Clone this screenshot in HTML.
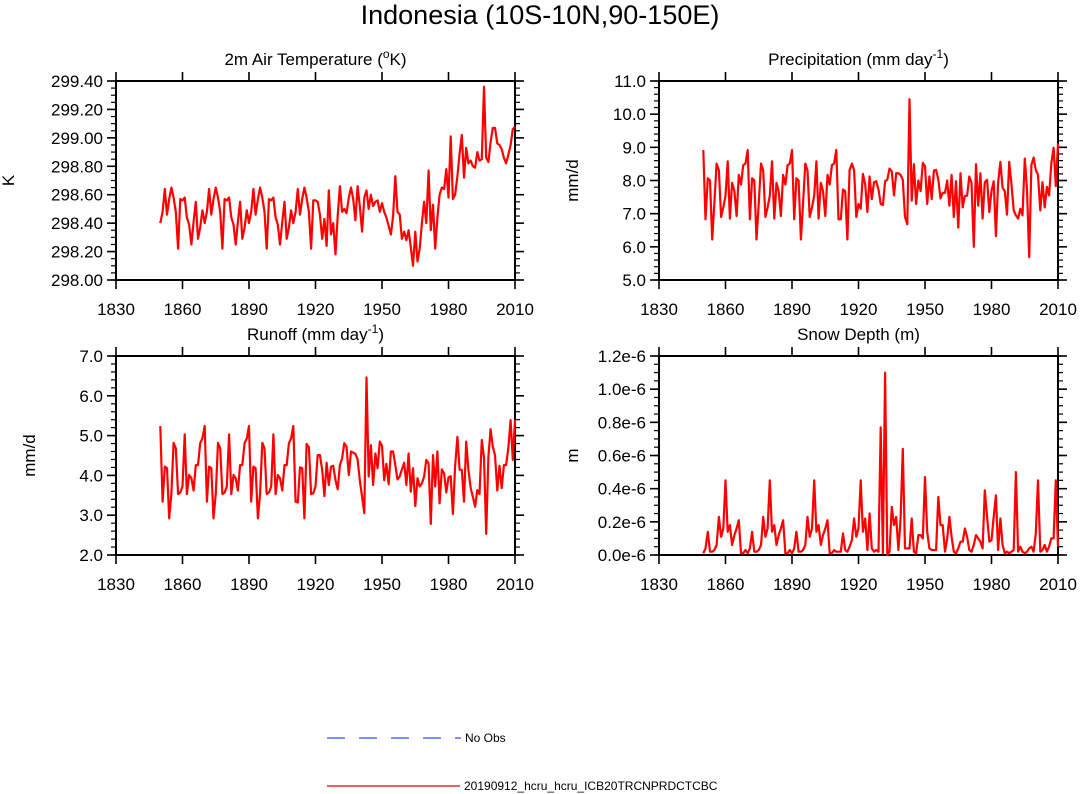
<!DOCTYPE html>
<html><head><meta charset="utf-8"><style>
body{margin:0;background:#fff;}
svg{display:block;font-family:"Liberation Sans",Arial,sans-serif;}
</style></head><body>
<svg id="chart" width="1080" height="794" viewBox="0 0 1080 794" xmlns="http://www.w3.org/2000/svg">
<text x="540" y="24" font-size="27" text-anchor="middle">Indonesia (10S-10N,90-150E)</text>
<g id="panels"></g>
<g>
<line x1="327" y1="738" x2="461" y2="738" stroke="#4444ff" stroke-width="1.3" stroke-dasharray="18,14"/>
<text x="465" y="742" font-size="12">No Obs</text>
<line x1="327" y1="786" x2="460" y2="786" stroke="#e00" stroke-width="1.3"/>
<text x="464" y="790" font-size="12">20190912_hcru_hcru_ICB20TRCNPRDCTCBC</text>
</g>
</svg>
<script>
const startYear = 1850;
const xTicks = [1830,1860,1890,1920,1950,1980,2010];
const tempCycle = [298.40,298.48,298.64,298.46,298.57,298.65,298.58,298.48,298.22,298.57,298.56,298.58,298.44,298.39,298.25,298.41,298.55,298.29,298.37,298.49];
const tempLate = [298.56,298.56,298.55,298.46,298.29,298.43,298.24,298.63,298.32,298.40,298.18,298.45,298.66,298.48,298.50,298.47,298.58,298.65,298.57,298.42,298.66,298.52,298.34,298.58,298.63,298.50,298.60,298.52,298.55,298.56,298.48,298.54,298.48,298.44,298.38,298.32,298.45,298.73,298.48,298.46,298.29,298.34,298.28,298.35,298.23,298.10,298.34,298.13,298.22,298.40,298.55,298.40,298.77,298.35,298.53,298.22,298.44,298.60,298.65,298.64,298.78,298.58,299.01,298.57,298.60,298.73,298.89,299.02,298.72,298.93,298.82,298.84,298.80,298.79,298.90,298.84,298.85,299.36,298.86,298.83,298.97,299.07,299.07,298.96,298.95,298.92,298.86,298.82,298.88,298.95,299.06,299.08];
const precCycle = [8.92,6.83,8.07,8.00,6.22,7.34,8.51,8.30,6.90,7.19,7.54,8.58,6.85,7.93,7.68,6.93,8.17,7.88,8.46,8.51];
const precLate = [6.83,7.73,7.68,6.22,8.32,8.51,8.30,6.90,7.29,7.15,8.20,7.88,7.05,8.12,7.44,7.95,7.98,7.73,7.29,7.26,7.98,8.02,8.36,8.27,7.55,8.22,8.22,8.17,8.02,6.90,6.68,10.45,7.39,8.49,7.29,8.00,7.68,8.53,8.43,7.29,8.12,7.44,8.30,8.32,8.02,7.46,7.63,7.63,8.00,7.24,8.17,6.90,7.98,6.58,8.22,7.19,7.54,7.54,8.12,7.93,6.00,8.49,7.24,8.22,6.85,7.95,8.02,7.05,7.68,7.98,6.32,7.93,8.56,7.78,7.68,6.97,8.56,7.88,7.10,6.95,6.85,7.15,6.95,8.66,7.73,5.69,8.46,8.69,8.32,8.17,7.10,7.95,7.19,7.81,7.55,8.51,8.99,7.83,9.12];
const runCycle = [5.24,3.34,4.22,4.18,2.92,3.55,4.82,4.68,3.53,3.57,3.72,5.03,3.53,4.01,3.93,3.62,4.26,4.26,4.81,4.93];
const runLate = [3.32,4.20,4.18,2.92,4.79,4.71,3.53,3.55,3.72,4.51,4.51,4.14,3.48,4.32,3.76,4.22,4.24,3.88,3.65,4.26,4.43,4.81,4.72,4.01,4.60,4.57,4.54,4.40,3.88,3.46,3.05,6.46,3.97,4.76,3.76,4.55,4.18,4.85,4.74,3.88,4.29,3.78,4.60,4.60,4.26,3.90,3.97,4.15,4.32,3.76,4.55,3.59,4.18,3.23,3.93,3.72,3.80,3.97,4.39,4.30,2.78,4.51,3.72,4.60,3.30,4.15,4.05,3.57,3.95,3.98,3.03,4.22,4.97,4.14,4.14,3.34,4.85,4.14,3.68,3.46,3.21,3.63,3.53,4.89,4.45,2.53,4.47,5.16,4.72,4.51,3.62,4.24,3.68,4.26,4.26,4.68,5.39,4.39,5.40];
const snowCycle = [0.01,0.04,0.14,0.02,0.02,0.03,0.06,0.23,0.11,0.16,0.45,0.14,0.18,0.06,0.12,0.16,0.21,0.01,0.01,0.03];
const snowLate = [0.02,0.02,0.13,0.03,0.02,0.05,0.09,0.22,0.11,0.16,0.45,0.14,0.22,0.03,0.25,0.04,0.02,0.03,0.02,0.77,0.01,1.10,0.00,0.02,0.29,0.18,0.23,0.03,0.22,0.64,0.04,0.04,0.04,0.22,0.02,0.01,0.12,0.12,0.10,0.47,0.14,0.04,0.03,0.03,0.03,0.35,0.18,0.18,0.02,0.10,0.23,0.11,0.02,0.01,0.04,0.08,0.08,0.16,0.11,0.03,0.02,0.06,0.12,0.10,0.08,0.04,0.39,0.23,0.08,0.09,0.23,0.36,0.03,0.22,0.06,0.01,0.02,0.01,0.02,0.03,0.50,0.02,0.05,0.02,0.01,0.02,0.04,0.05,0.02,0.13,0.45,0.02,0.03,0.06,0.02,0.05,0.10,0.10,0.45,0.05];
const tempTicks = ["298.00","298.20","298.40","298.60","298.80","299.00","299.20","299.40"];
const precTicks = ["5.0","6.0","7.0","8.0","9.0","10.0","11.0"];
const runTicks = ["2.0","3.0","4.0","5.0","6.0","7.0"];
const snowTicks = ["0.0e-6","0.2e-6","0.4e-6","0.6e-6","0.8e-6","1.0e-6","1.2e-6"];

const NS = "http://www.w3.org/2000/svg";
const root = document.getElementById('panels');
function mk(tag, attrs, parent){
  const e = document.createElementNS(NS, tag);
  for (const k in attrs) e.setAttribute(k, attrs[k]);
  parent.appendChild(e);
  return e;
}
function series(cycle, repeats, late){
  let out = [];
  for (let r=0;r<repeats;r++) out = out.concat(cycle);
  return out.concat(late);
}
const panels = [
  {key:'temperature', x:116, y:81, w:399, h:199, vals:series(tempCycle,3,tempCycle.slice(0,9).concat(tempLate)).slice(0,161), lo:298, hi:299.4, ticks:tempTicks, minor:0.05, ylab:'K', title:['2m Air Temperature (','o','K)']},
  {key:'precipitation', x:659, y:81, w:399, h:199, vals:series(precCycle,3,precCycle.slice(0,2).concat(precLate)).slice(0,161), lo:5, hi:11, ticks:precTicks, minor:0.2, ylab:'mm/d', title:['Precipitation (mm day','-1',')']},
  {key:'runoff', x:116, y:356, w:399, h:199, vals:series(runCycle,3,runCycle.slice(0,2).concat(runLate)).slice(0,161), lo:2, hi:7, ticks:runTicks, minor:0.2, ylab:'mm/d', title:['Runoff (mm day','-1',')']},
  {key:'snow-depth', x:659, y:356, w:399, h:199, vals:series(snowCycle,3,[0.02].concat(snowLate)).slice(0,161), lo:0, hi:1.2, ticks:snowTicks, minor:0.05, ylab:'m', title:['Snow Depth (m)']}
];
panels.forEach(p=>{
  const g = mk('g',{},root);
  
  
  const xs = yr => p.x + (yr-1830)/180*p.w;
  const ys = v => p.y + p.h - (v-p.lo)/(p.hi-p.lo)*p.h;
  const fr = mk('rect',{x:p.x,y:p.y,width:p.w,height:p.h,fill:'none',stroke:'#000','stroke-width':2},g);
  
  
  xTicks.forEach(t=>{
    const x = xs(t);
    mk('line',{x1:x,y1:p.y+p.h,x2:x,y2:p.y+p.h+9,stroke:'#000','stroke-width':1.6},g);
    mk('line',{x1:x,y1:p.y,x2:x,y2:p.y-9,stroke:'#000','stroke-width':1.6},g);
    const tl = mk('text',{x:x,y:p.y+p.h+35,'font-size':17,'text-anchor':'middle'},g);
    tl.textContent = t;
    
    
  });
  const step = (p.hi-p.lo)/(p.ticks.length-1);
  p.ticks.forEach((lab,i)=>{
    const y = ys(p.lo+i*step);
    mk('line',{x1:p.x,y1:y,x2:p.x-9,y2:y,stroke:'#000','stroke-width':1.6},g);
    mk('line',{x1:p.x+p.w,y1:y,x2:p.x+p.w+9,y2:y,stroke:'#000','stroke-width':1.6},g);
    const tl = mk('text',{x:p.x-13,y:y+6,'font-size':17,'text-anchor':'end'},g);
    tl.textContent = lab;
    
    
  });
  const nMinor = Math.round((p.hi-p.lo)/p.minor);
  for (let i=0;i<=nMinor;i++){
    const y = ys(p.lo+i*p.minor);
    mk('line',{x1:p.x,y1:y,x2:p.x-5,y2:y,stroke:'#000','stroke-width':1.2},g);
    mk('line',{x1:p.x+p.w,y1:y,x2:p.x+p.w+5,y2:y,stroke:'#000','stroke-width':1.2},g);
  }
  const lx = p.key==='temperature' ? 14 : p.x-81;
  const yl = mk('text',{x:lx,y:p.y+p.h/2,'font-size':17,'text-anchor':'middle',transform:`rotate(-90 ${lx} ${p.y+p.h/2})`},g);
  yl.textContent = p.ylab;
  
  
  const tt = mk('text',{x:p.x+p.w/2,y:p.y-16,'font-size':17,'text-anchor':'middle'},g);
  
  
  tt.appendChild(document.createTextNode(p.title[0]));
  if (p.title.length>1){
    const sp = mk('tspan',{dy:-7,'font-size':12},tt); sp.textContent = p.title[1];
    const sp2 = mk('tspan',{dy:7},tt); sp2.textContent = p.title[2];
  }
  const pts = p.vals.map((v,i)=>xs(startYear+i).toFixed(1)+','+ys(v).toFixed(1)).join(' ');
  const pl = mk('polyline',{points:pts,fill:'none',stroke:'#ff0000','stroke-width':2.2,'stroke-linejoin':'round'},g);
  
  
});
</script>
</body></html>
